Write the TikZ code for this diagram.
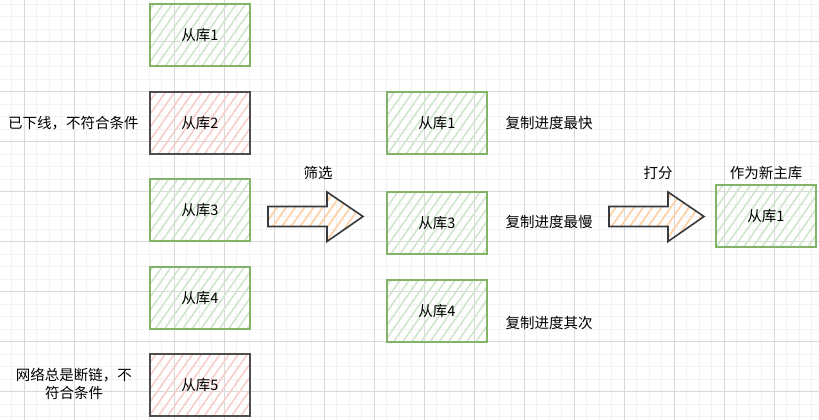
\documentclass[tikz,border=0pt]{standalone}
\usepackage{fontspec}
\setmainfont{Noto Sans CJK SC}
\usetikzlibrary{patterns.meta}
\definecolor{gstroke}{HTML}{82B366}
\definecolor{ghatch}{HTML}{D0E6CE}
\definecolor{rstroke}{HTML}{4D4D4D}
\definecolor{rhatch}{HTML}{F8CECC}
\definecolor{astroke}{HTML}{36393D}
\definecolor{ahatch}{HTML}{FFD2A8}
\definecolor{minorc}{HTML}{F2F2F2}
\definecolor{majorc}{HTML}{D9D9D9}
\tikzset{
  box/.style={minimum width=100pt, minimum height=62pt, inner sep=0pt, line width=2pt},
  gbox/.style={box, draw=gstroke, pattern={Lines[angle=55,distance=7.5pt,line width=1.6pt]}, pattern color=ghatch},
  rbox/.style={box, draw=rstroke, pattern={Lines[angle=55,distance=7.5pt,line width=1.6pt]}, pattern color=rhatch},
  bigarrow/.style={draw=astroke, line width=1.6pt, line join=miter, pattern={Lines[angle=55,distance=7.5pt,line width=1.8pt]}, pattern color=ahatch},
  lbl/.style={inner sep=0pt, align=center},
  minorline/.style={draw=minorc, line width=1pt},
  majorline/.style={draw=majorc, line width=1pt},
}
\begin{document}
\begin{tikzpicture}[x=1pt,y=-1pt, font=\fontsize{14.5}{18.5}\selectfont]
\useasboundingbox (0,0) rectangle (819,420);
\fill[white] (0,0) rectangle (819,420);
% grid
\foreach \i in {-1,...,63} {\pgfmathsetmacro\xx{24.3+12.5*\i}\draw[minorline] (\xx,0) -- (\xx,420);}
\foreach \i in {-3,...,30} {\pgfmathsetmacro\yy{41.7+12.5*\i}\draw[minorline] (0,\yy) -- (819,\yy);}
\foreach \i in {0,...,15} {\pgfmathsetmacro\xx{24.3+50*\i}\draw[majorline] (\xx,0) -- (\xx,420);}
\foreach \i in {0,...,7} {\pgfmathsetmacro\yy{41.7+50*\i}\draw[majorline] (0,\yy) -- (819,\yy);}
% left column
\node[gbox] (s1) at (200,35) {从库1};
\node[rbox] (s2) at (200,123) {从库2};
\node[gbox] (s3) at (200,210) {从库3};
\node[gbox] (s4) at (200,298) {从库4};
\node[rbox] (s5) at (200,385) {从库5};
\node[lbl] (t2) at (73.5,123) {已下线，不符合条件};
\node[lbl] (t5) at (74,384) {网络总是断链，不\\符合条件};
% arrow 1
\draw[bigarrow] (268,206.5) -- (327,206.5) -- (327,192) -- (363,216.5) -- (327,241.5) -- (327,226.5) -- (268,226.5) -- cycle;
\node[lbl] (f) at (318,173) {筛选};
% middle column
\node[gbox] (m1) at (437,123) {从库1};
\node[gbox] (m3) at (437,223) {从库3};
\node[gbox] (m4) at (437,311) {从库4};
\node[lbl] (d1) at (549,123) {复制进度最快};
\node[lbl] (d3) at (549,222) {复制进度最慢};
\node[lbl] (d4) at (549,323) {复制进度其次};
% arrow 2
\draw[bigarrow] (609,206.5) -- (668,206.5) -- (668,192) -- (704,216.5) -- (668,241.5) -- (668,226.5) -- (609,226.5) -- cycle;
\node[lbl] (g) at (658,173) {打分};
% result
\node[gbox] (r1) at (766,216) {从库1};
\node[lbl] (n) at (766,173) {作为新主库};
\end{tikzpicture}
\end{document}
